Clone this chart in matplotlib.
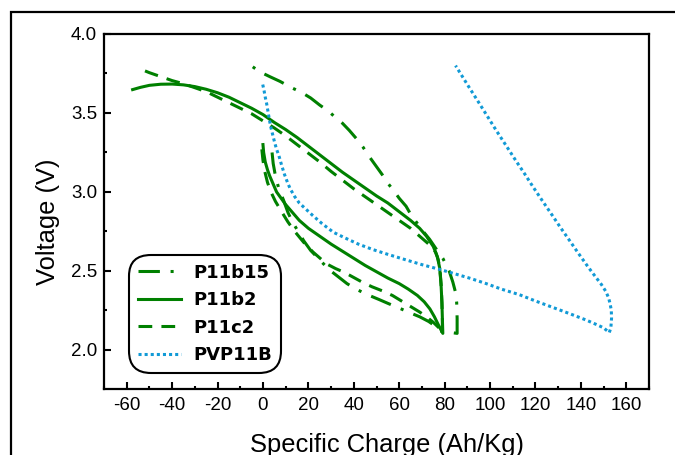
import matplotlib
matplotlib.use('Agg')
import matplotlib.pyplot as plt
from matplotlib.patches import Rectangle
from matplotlib.ticker import MultipleLocator, FormatStrFormatter

plt.rcParams['font.family'] = ['Liberation Sans', 'DejaVu Sans']
plt.rcParams['axes.unicode_minus'] = False

# P11b15 (dash-dot): discharge from ~0 down to 2.1, then charge back up
b15_x = [4, 4.5, 5.5, 7, 9, 11, 13, 15.5, 18, 21, 25, 29, 33, 37, 41, 46, 51, 55, 60, 64,
         69, 73, 76, 78, 85.5,
         85.5, 85.3, 84.7, 83.6, 82, 79.2, 76, 73.4, 70, 67.5, 65, 63, 60, 57.5, 55,
         52.5, 50, 47, 44, 41, 38, 35, 32, 29, 25, 21, 17, 12.6, 7.5, 3, -1.3, -5.3]
b15_y = [3.25, 3.18, 3.10, 3.02, 2.95, 2.87, 2.81, 2.75, 2.69, 2.63, 2.57, 2.51, 2.465, 2.42,
         2.385, 2.35, 2.32, 2.295, 2.265, 2.24, 2.21, 2.18, 2.15, 2.12, 2.105,
         2.2, 2.30, 2.37, 2.43, 2.50, 2.58, 2.645, 2.70, 2.76, 2.81, 2.86, 2.91, 2.96, 3.01, 3.055,
         3.11, 3.16, 3.22, 3.285, 3.34, 3.39, 3.435, 3.47, 3.51, 3.55, 3.595, 3.63, 3.66, 3.70,
         3.73, 3.76, 3.80]

# P11b2 (solid)
b2_x = [0, 0.3, 1, 2, 3, 4.5, 6, 8, 10, 13, 16, 20, 25, 30, 35, 40, 45, 50, 55, 60, 64, 68,
        71, 73.5, 75.5, 77.2, 79.2,
        79.0, 78.8, 78.4, 77.8, 76.8, 75, 72, 69, 65, 60, 55, 50, 45, 40, 35, 30, 25, 20, 15,
        10, 5, 0, -5, -10, -15, -20, -25, -30, -35, -40, -45, -50, -54, -57.4]
b2_y = [3.30, 3.25, 3.19, 3.14, 3.10, 3.05, 3.00, 2.96, 2.92, 2.87, 2.82, 2.77, 2.72, 2.67,
        2.625, 2.58, 2.535, 2.495, 2.455, 2.42, 2.385, 2.345, 2.305, 2.26, 2.21, 2.16, 2.105,
        2.2, 2.3, 2.42, 2.52, 2.59, 2.655, 2.72, 2.77, 2.82, 2.875, 2.93, 2.975, 3.025, 3.075,
        3.125, 3.18, 3.235, 3.29, 3.345, 3.395, 3.44, 3.49, 3.53, 3.565, 3.60, 3.628, 3.65,
        3.667, 3.678, 3.683, 3.682, 3.675, 3.662, 3.648]

# P11c2 (dashed)
c2_x = [-0.5, 0, 0.8, 2, 3.5, 5.5, 8, 11, 14, 18, 22, 28, 32, 36, 43.6, 48, 52.4, 57, 61, 65,
        69, 72, 75, 77.5, 79,
        79, 78.8, 78.5, 78, 77.2, 76, 73, 69, 65, 60, 55, 50, 45, 40, 35, 30, 25, 20, 15, 10,
        5, 0, -5, -10, -15, -20, -25, -30, -35, -40, -45, -50, -54.3]
c2_y = [3.27, 3.20, 3.13, 3.06, 3.00, 2.94, 2.88, 2.81, 2.75, 2.68, 2.62, 2.545, 2.515, 2.49,
        2.43, 2.40, 2.375, 2.345, 2.31, 2.275, 2.24, 2.21, 2.175, 2.14, 2.10,
        2.2, 2.3, 2.4, 2.5, 2.57, 2.62, 2.67, 2.72, 2.77, 2.82, 2.87, 2.92, 2.97, 3.02, 3.075,
        3.13, 3.19, 3.245, 3.30, 3.355, 3.405, 3.45, 3.495, 3.53, 3.565, 3.60, 3.635, 3.66,
        3.685, 3.705, 3.73, 3.755, 3.78]

# PVP11B (dotted)
pvp_x = [-0.1, 0.5, 1, 1.6, 2.2, 2.8, 3.3, 3.8, 4.5, 5.2, 6, 7, 8.2, 9.5, 10.8, 12, 14, 16,
         19, 22, 26, 31, 36, 42, 48.5, 55, 63, 70, 77.8, 81.4, 90.9, 98.3, 105, 112.9, 120,
         127.5, 135, 142.2, 147, 150, 152.5,
         153.2, 153.5, 153.4, 152.9, 152.2, 151, 149, 146.6, 144.5, 142.2, 138.5, 134.9, 131,
         127.5, 123, 118.8, 115, 111.5, 107, 102.7, 99, 95.3, 90, 84.8]
pvp_y = [3.68, 3.64, 3.60, 3.56, 3.51, 3.46, 3.42, 3.39, 3.35, 3.31, 3.27, 3.23, 3.17, 3.11,
         3.06, 3.02, 2.97, 2.93, 2.89, 2.85, 2.80, 2.745, 2.71, 2.67, 2.635, 2.605, 2.57, 2.54,
         2.51, 2.495, 2.455, 2.42, 2.385, 2.35, 2.31, 2.27, 2.23, 2.19, 2.16, 2.14, 2.11,
         2.14, 2.2, 2.25, 2.29, 2.33, 2.37, 2.415, 2.46, 2.50, 2.545, 2.62, 2.695, 2.775, 2.85,
         2.945, 3.035, 3.12, 3.195, 3.295, 3.39, 3.475, 3.56, 3.68, 3.80]

green = '#008000'
blue = '#119ad6'

fig = plt.figure(figsize=(6.75, 4.55), dpi=100)
ax = fig.add_axes([0.1541, 0.1451, 0.8074, 0.7802])

ax.plot(b15_x, b15_y, color=green, lw=2.2, linestyle=(0, (7, 3.5, 1, 3.5)), label='P11b15')
ax.plot(b2_x, b2_y, color=green, lw=2.2, linestyle='-', label='P11b2')
ax.plot(c2_x, c2_y, color=green, lw=2.2, linestyle=(0, (4.5, 3)), label='P11c2')
ax.plot(pvp_x, pvp_y, color=blue, lw=2.2, linestyle=(0, (1, 1)), label='PVP11B')

ax.set_xlim(-70, 170)
ax.set_ylim(1.753, 4.0)
ax.xaxis.set_major_locator(MultipleLocator(20))
ax.xaxis.set_minor_locator(MultipleLocator(10))
ax.yaxis.set_minor_locator(MultipleLocator(0.25))
ax.set_yticks([2.0, 2.5, 3.0, 3.5, 4.0])
ax.yaxis.set_major_formatter(FormatStrFormatter('%.1f'))
ax.tick_params(which='major', direction='in', length=5, width=1.5, labelsize=13.5)
ax.tick_params(which='minor', direction='in', length=2.5, width=1.5)
ax.tick_params(axis='x', which='major', pad=6)
ax.tick_params(axis='y', which='major', pad=5)
for s in ax.spines.values():
    s.set_linewidth(1.6)

ax.set_xlabel('Specific Charge (Ah/Kg)', fontsize=18.4)
ax.set_ylabel('Voltage (V)', fontsize=18.4)
ax.xaxis.set_label_coords(0.52, -0.125)
ax.yaxis.set_label_coords(-0.08, 0.47)

leg = ax.legend(loc='lower left', bbox_to_anchor=(0.046, 0.045), borderaxespad=0,
                fancybox=True, prop={'weight': 'bold', 'size': 13, 'family': 'DejaVu Sans'},
                handlelength=2.4, labelspacing=0.52, borderpad=0.5, handletextpad=0.66,
                framealpha=1, edgecolor='black')
leg.get_frame().set_linewidth(1.5)
leg.get_frame().set_boxstyle('round', pad=0, rounding_size=1.2)

# outer frame around the figure (cut off at right and bottom)
fig.add_artist(Rectangle((11 / 675, -0.2), 2.0, 0.2 + (1 - 12 / 455), transform=fig.transFigure,
                         fill=False, edgecolor='black', lw=1.6))

fig.savefig('out.png', dpi=100)
